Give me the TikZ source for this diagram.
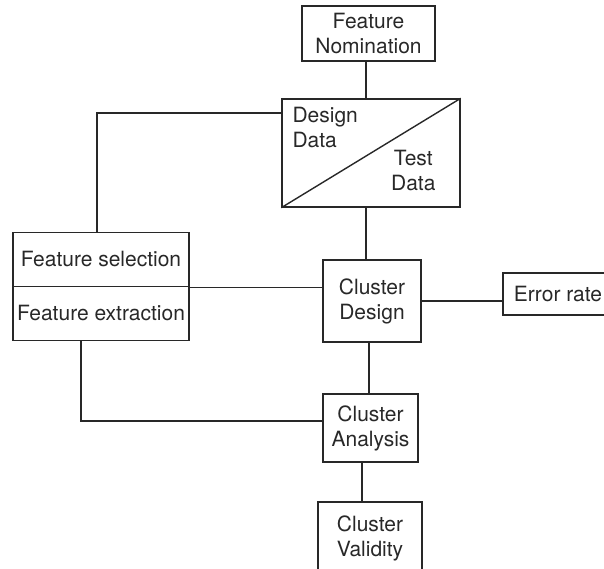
\documentclass[tikz,border=0pt]{standalone}
\usepackage{fontspec}
\setmainfont{TeX Gyre Heros}
\usepackage{xcolor}
\usepackage{tikz}
\definecolor{inkgray}{RGB}{40,40,40}

\begin{document}
\begin{tikzpicture}[x=1pt,y=-1pt,
    wire/.style={draw=inkgray,line width=1.4pt},
    blockbox/.style={draw=inkgray,line width=1.4pt,align=center,inner sep=0pt,
      font=\fontsize{21}{25}\selectfont,text=inkgray},
    plaintext/.style={inner sep=0pt,font=\fontsize{21}{25}\selectfont,text=inkgray}]
  \useasboundingbox (0,0) rectangle (604,569);
  \clip (0,0) rectangle (604,569);
  \node[blockbox,minimum width=133pt,minimum height=55pt] (nom) at (368.5,33.5) {Feature\\Nomination};
  \node[blockbox,minimum width=178pt,minimum height=108pt] (data) at (371,153) {};
  \node[blockbox,minimum width=176pt,minimum height=54pt] (sel) at (101,259.5) {Feature selection};
  \node[blockbox,minimum width=176pt,minimum height=54pt] (ext) at (101,313.5) {Feature extraction};
  \node[blockbox,minimum width=98pt,minimum height=82pt] (design) at (372,301) {Cluster\\Design};
  \node[blockbox,minimum width=110pt,minimum height=42pt] (err) at (558,294) {Error rate};
  \node[blockbox,minimum width=95pt,minimum height=68pt] (ana) at (370.5,428) {Cluster\\Analysis};
  \node[blockbox,minimum width=104pt,minimum height=72pt] (val) at (370,538) {Cluster\\Validity};
  \draw[wire] (data.south west) -- (data.north east);
  \node[plaintext,anchor=north west,align=left] (dtext) at ([xshift=11pt,yshift=-9pt]data.north west) {Design\\Data};
  \node[plaintext,anchor=south east,align=center] (ttext) at ([xshift=-25pt,yshift=17pt]data.south east) {Test\\Data};
  \draw[wire] ([xshift=-2.5pt]nom.south) -- ([xshift=-2.5pt]nom.south |- data.north);
  \draw[wire] ([xshift=-4pt]sel.north) |- ([yshift=40pt]data.west);
  \draw[wire] ([xshift=-5pt]data.south) -- ([xshift=-5pt]data.south |- design.north);
  \draw[wire] (sel.south east) -- (sel.south east -| design.west);
  \draw[wire] (design.east) -- (design.east -| err.west);
  \draw[wire] ([xshift=-3pt]design.south) -- ([xshift=-3pt]design.south |- ana.north);
  \draw[wire] ([xshift=-20pt]ext.south) |- ([yshift=7pt]ana.west);
  \draw[wire] ([xshift=-8.5pt]ana.south) -- ([xshift=-8.5pt]ana.south |- val.north);
\end{tikzpicture}
\end{document}
